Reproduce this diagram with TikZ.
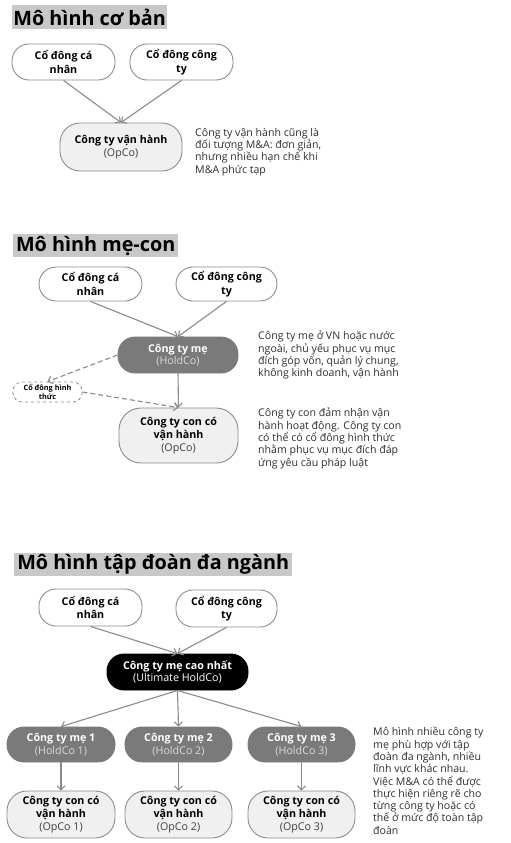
\documentclass[tikz,border=0pt]{standalone}
\usepackage{fontspec}
\setmainfont{Open Sans}
\usetikzlibrary{arrows.meta}
\definecolor{lineg}{HTML}{8A8A8A}
\definecolor{bordg}{HTML}{8C8C8C}
\definecolor{holdg}{HTML}{7A7A7A}
\definecolor{opg}{HTML}{F0F0F0}
\definecolor{titleg}{HTML}{C8C8C8}
\definecolor{notec}{HTML}{2E2E2E}
\tikzset{
  box/.style={draw=bordg, line width=0.9pt, rounded corners=17pt, align=center, inner sep=1pt,
    font=\fontsize{10.7}{13.5}\selectfont\bfseries, text=black},
  sharebox/.style={box, fill=white},
  opbox/.style={box, fill=opg},
  holdbox/.style={box, fill=holdg, draw=holdg, text=white},
  ultbox/.style={box, fill=black, draw=black, text=white},
  dumbox/.style={draw=bordg, dashed, line width=0.8pt, rounded corners=9pt, align=center, inner sep=0pt,
    font=\fontsize{7.3}{8.5}\selectfont\bfseries},
  titlebox/.style={fill=titleg, anchor=west, inner xsep=1pt, inner ysep=0pt, font=\fontsize{19.8}{22}\selectfont\bfseries},
  note/.style={anchor=north west, align=left, inner sep=0pt, text=notec, font=\fontsize{10.6}{12.3}\selectfont},
  arr/.style={draw=lineg, line width=1.1pt, -{Straight Barb[length=4pt,width=8pt]}},
  darr/.style={arr, dashed, dash pattern=on 5pt off 3pt}
}
\newcommand{\sub}[1]{\\[-1pt]{\mdseries #1}}
\begin{document}
\begin{tikzpicture}[x=1pt,y=-1pt]
\useasboundingbox (0,0) rectangle (511,843);
% ---------- Section 1
\node[titlebox, minimum width=155pt, minimum height=24pt] (t1) at (12,17) {Mô hình cơ bản};
\node[sharebox, minimum width=103pt, minimum height=36pt] (ca1) at (63.5,62) {Cổ đông cá\\nhân};
\node[sharebox, minimum width=103pt, minimum height=36pt] (ct1) at (181.5,62) {Cổ đông công\\ty};
\node[opbox, minimum width=122pt, minimum height=48pt, rounded corners=20pt] (op1) at (121,147) {Công ty vận hành\sub{\color{black!75}(OpCo)}};
\draw[arr] (ca1.south) -- (op1.north);
\draw[arr] (ct1.south) -- (op1.north);
\node[note] (n1) at (195,128) {Công ty vận hành cũng là\\đối tượng M\&A: đơn giản,\\nhưng nhiều hạn chế khi\\M\&A phức tạp};
% ---------- Section 2
\node[titlebox, minimum width=165pt, minimum height=23pt] (t2) at (13,245.5) {Mô hình mẹ-con};
\node[sharebox, minimum width=103pt, minimum height=34pt] (ca2) at (90.5,284) {Cổ đông cá\\nhân};
\node[sharebox, minimum width=101pt, minimum height=34pt] (ct2) at (226.5,284) {Cổ đông công\\ty};
\node[holdbox, minimum width=120pt, minimum height=36pt] (h2) at (178,355) {Công ty mẹ\sub{\color{white!85!black}(HoldCo)}};
\node[dumbox, minimum width=69pt, minimum height=20pt] (d2) at (47.5,392) {Cổ đông hình\\thức};
\node[opbox, minimum width=119pt, minimum height=55pt, rounded corners=22pt] (op2) at (178.5,435.5) {Công ty con có\\vận hành\sub{\color{black!75}(OpCo)}};
\draw[arr] (ca2.south) -- (h2.north);
\draw[arr] (ct2.south) -- (h2.north);
\draw[arr] (h2.south) -- (op2.north);
\draw[darr] (h2.west) -- (d2.north);
\draw[darr] (d2.east) -- (op2.north);
\node[note] (n2) at (258,331) {Công ty mẹ ở VN hoặc nước\\ngoài, chủ yếu phục vụ mục\\đích góp vốn, quản lý chung,\\không kinh doanh, vận hành};
\node[note] (n3) at (258,408) {Công ty con đảm nhận vận\\hành hoạt động. Công ty con\\có thể có cổ đông hình thức\\nhằm phục vụ mục đích đáp\\ứng yêu cầu pháp luật};
% ---------- Section 3
\node[titlebox, minimum width=278pt, minimum height=23pt] (t3) at (14,564.5) {Mô hình tập đoàn đa ngành};
\node[sharebox, minimum width=103pt, minimum height=37pt] (ca3) at (90.5,607.5) {Cổ đông cá\\nhân};
\node[sharebox, minimum width=101pt, minimum height=37pt] (ct3) at (226.5,608.5) {Cổ đông công\\ty};
\node[ultbox, minimum width=141pt, minimum height=36pt] (u3) at (177.5,672) {Công ty mẹ cao nhất\sub{(Ultimate HoldCo)}};
\node[holdbox, minimum width=108pt, minimum height=35pt] (ha) at (61,744.5) {Công ty mẹ 1\sub{\color{white!85!black}(HoldCo 1)}};
\node[holdbox, minimum width=107pt, minimum height=35pt] (hb) at (178.5,744.5) {Công ty mẹ 2\sub{\color{white!85!black}(HoldCo 2)}};
\node[holdbox, minimum width=107pt, minimum height=35pt] (hc) at (301.5,744.5) {Công ty mẹ 3\sub{\color{white!85!black}(HoldCo 3)}};
\node[opbox, minimum width=108pt, minimum height=47pt, rounded corners=20pt] (oa) at (61,814.5) {Công ty con có\\vận hành\sub{\color{black!75}(OpCo 1)}};
\node[opbox, minimum width=107pt, minimum height=47pt, rounded corners=20pt] (ob) at (178.5,814.5) {Công ty con có\\vận hành\sub{\color{black!75}(OpCo 2)}};
\node[opbox, minimum width=107pt, minimum height=47pt, rounded corners=20pt] (oc) at (301.5,814.5) {Công ty con có\\vận hành\sub{\color{black!75}(OpCo 3)}};
\draw[arr] (ca3.south) -- (u3.north);
\draw[arr] (ct3.south) -- (u3.north);
\draw[arr] (u3.south) -- (ha.north);
\draw[arr] (u3.south) -- (hb.north);
\draw[arr] (u3.south) -- (hc.north);
\draw[arr] (ha.south) -- (oa.north);
\draw[arr] (hb.south) -- (ob.north);
\draw[arr] (hc.south) -- (oc.north);
\node[note] (n4) at (373,727) {Mô hình nhiều công ty\\mẹ phù hợp với tập\\đoàn đa ngành, nhiều\\lĩnh vực khác nhau.\\Việc M\&A có thể được\\thực hiện riêng rẽ cho\\từng công ty hoặc có\\thể ở mức độ toàn tập\\đoàn};
\end{tikzpicture}
\end{document}
